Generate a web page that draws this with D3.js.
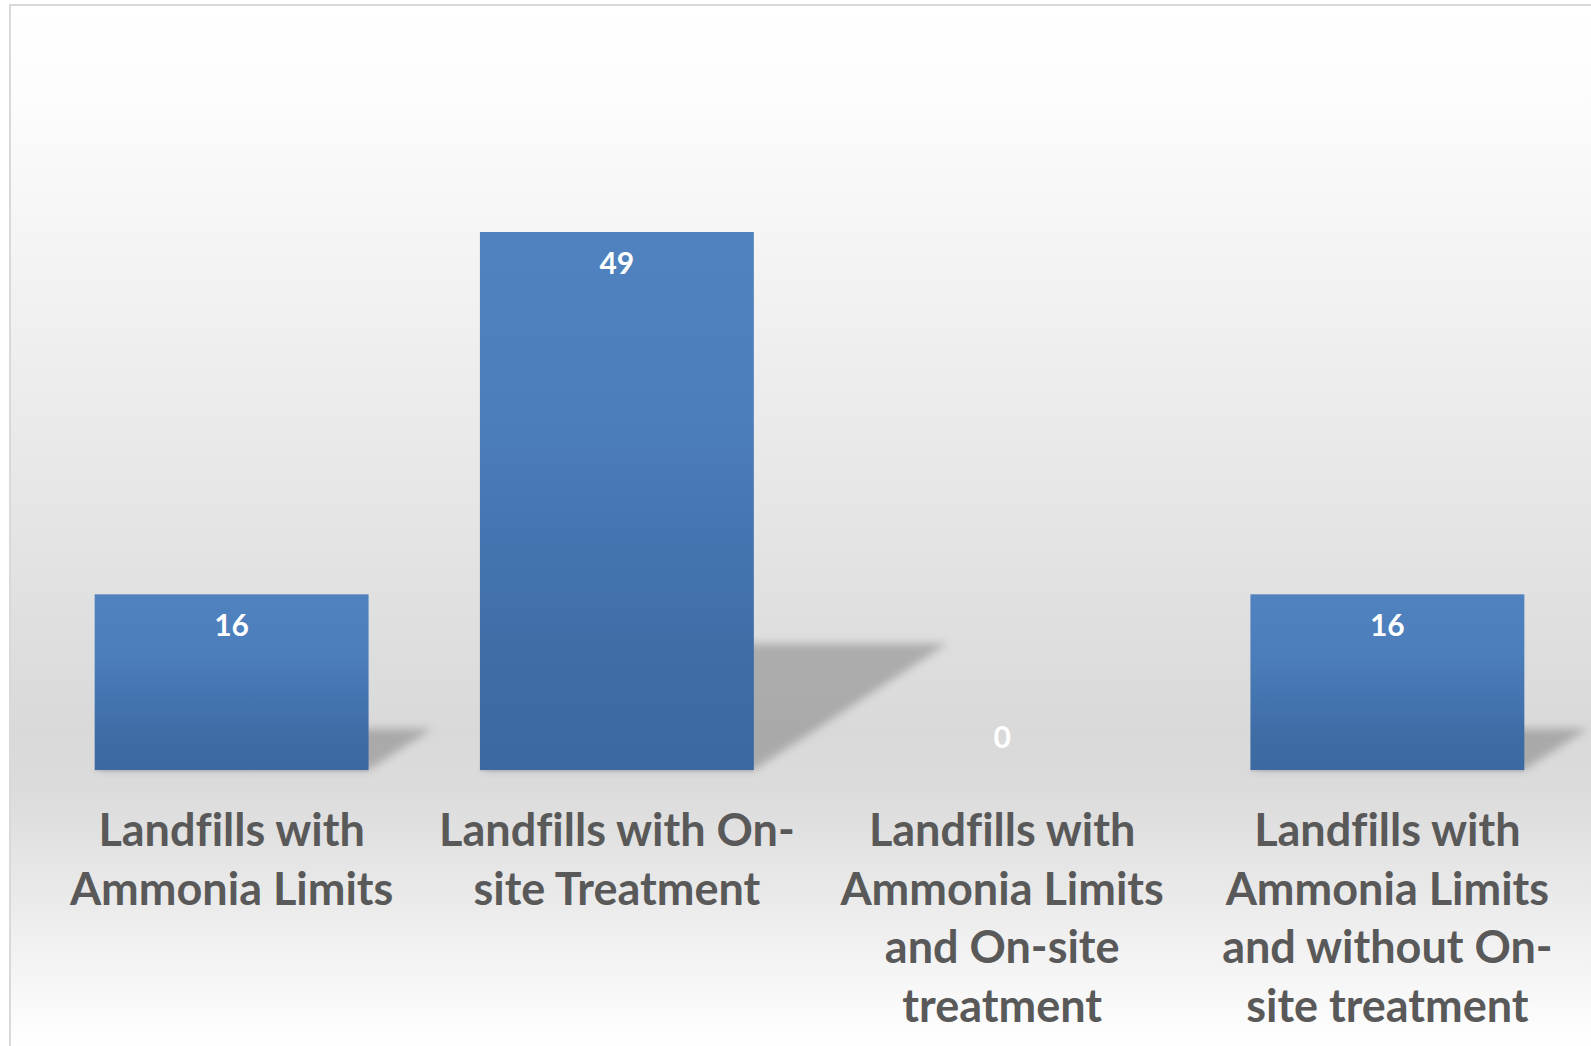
<!DOCTYPE html>
<html>
<head>
<meta charset="utf-8">
<script src="https://cdn.jsdelivr.net/npm/d3@7"></script>
<style>
  html, body { margin: 0; padding: 0; background: #ffffff; }
  svg { display: block; }
  text { font-variant-ligatures: none; font-feature-settings: "liga" 0; }
</style>
</head>
<body>
<script>
// Landfill counts by category
const categories = [
  "Landfills with Ammonia Limits",
  "Landfills with On-site Treatment",
  "Landfills with Ammonia Limits and On-site treatment",
  "Landfills with Ammonia Limits and without On-site treatment"
];
const categoryLines = [
  ["Landfills with", "Ammonia Limits"],
  ["Landfills with On-", "site Treatment"],
  ["Landfills with", "Ammonia Limits", "and On-site", "treatment"],
  ["Landfills with", "Ammonia Limits", "and without On-", "site treatment"]
];
const values = [16, 49, 0, 16];

const W = 1591, H = 1046;
const baseY = 770;

const svg = d3.select("body").append("svg")
  .attr("width", W).attr("height", H);

const defs = svg.append("defs");

// chart-area background: white fading to grey near the baseline, then back to white
const bg = defs.append("linearGradient")
  .attr("id", "bgGrad").attr("gradientUnits", "userSpaceOnUse")
  .attr("x1", 0).attr("y1", 4).attr("x2", 0).attr("y2", 1046);
[[0, "#ffffff"], [0.08, "#fdfdfd"], [0.70, "#d9d9d9"], [0.76, "#dcdcdc"], [1, "#ffffff"]]
  .forEach(([o, c]) => bg.append("stop").attr("offset", o).attr("stop-color", c));

// bar fill gradient
const bar = defs.append("linearGradient")
  .attr("id", "barGrad").attr("x1", 0).attr("y1", 0).attr("x2", 0).attr("y2", 1);
[[0, "#4f82be"], [0.35, "#4c7ebb"], [0.8, "#3e6ca5"], [1, "#3c69a1"]]
  .forEach(([o, c]) => bar.append("stop").attr("offset", o).attr("stop-color", c));

const blur = defs.append("filter").attr("id", "soft")
  .attr("x", "-20%").attr("y", "-40%").attr("width", "140%").attr("height", "180%");
blur.append("feGaussianBlur").attr("stdDeviation", 4);

// chart frame
svg.append("rect")
  .attr("x", 10).attr("y", 5).attr("width", W + 20).attr("height", H + 20)
  .attr("fill", "url(#bgGrad)")
  .attr("stroke", "#d9d9d9").attr("stroke-width", 2);

const x = d3.scaleBand()
  .domain(categories)
  .range([39, 1580])
  .paddingInner(0.289)
  .paddingOuter(0.1445);

const y = d3.scaleLinear()
  .domain([0, 49])
  .range([baseY, 232]);

const g = svg.append("g");
const rows = values.map((v, i) => ({ v, c: categories[i] }));

// perspective shadows cast to the upper right of each bar
const shadowScale = 0.235, shadowSkew = 0.36;
g.selectAll("path.shadow")
  .data(rows.filter(d => d.v > 0))
  .join("path")
  .attr("class", "shadow")
  .attr("d", d => {
    const x0 = x(d.c), x1 = x0 + x.bandwidth();
    const h = y(0) - y(d.v);
    const dy = h * shadowScale, dx = h * shadowSkew;
    return `M${x0},${baseY}L${x1},${baseY}L${x1 + dx},${baseY - dy}L${x0 + dx},${baseY - dy}Z`;
  })
  .attr("fill", "#000").attr("fill-opacity", 0.22)
  .attr("filter", "url(#soft)");

// faint contact shadow below bars
g.selectAll("rect.contact")
  .data(rows.filter(d => d.v > 0))
  .join("rect")
  .attr("class", "contact")
  .attr("x", d => x(d.c)).attr("y", baseY)
  .attr("width", x.bandwidth()).attr("height", 2)
  .attr("fill", "#000").attr("fill-opacity", 0.06);

// bars
g.selectAll("rect.bar")
  .data(rows)
  .join("rect")
  .attr("class", "bar")
  .attr("x", d => x(d.c))
  .attr("y", d => y(d.v))
  .attr("width", x.bandwidth())
  .attr("height", d => y(0) - y(d.v))
  .attr("fill", "url(#barGrad)");

// value labels
g.selectAll("text.val")
  .data(rows)
  .join("text")
  .attr("class", "val")
  .attr("x", d => x(d.c) + x.bandwidth() / 2)
  .attr("y", d => Math.min(y(d.v) + 42, y(0) - 22))
  .attr("text-anchor", "middle")
  .attr("font-family", "Lato, 'Open Sans', sans-serif")
  .attr("font-weight", 700)
  .attr("font-size", 30)
  .attr("fill", "#ffffff")
  .text(d => d.v);

// category axis
const axis = svg.append("g")
  .attr("transform", `translate(0,${baseY})`)
  .call(d3.axisBottom(x).tickSize(0).tickPadding(0));
axis.select(".domain").remove();
axis.selectAll(".tick text").remove();
axis.selectAll(".tick").each(function (c, i) {
  const t = d3.select(this).append("text")
    .attr("text-anchor", "middle")
    .attr("font-family", "Lato, 'Open Sans', sans-serif")
    .attr("font-weight", 700)
    .attr("font-size", 45)
    .attr("fill", "#595959");
  categoryLines[i].forEach((line, k) => {
    t.append("tspan").attr("x", 0).attr("y", 76 + k * 58.5).text(line);
  });
});
</script>
</body>
</html>
